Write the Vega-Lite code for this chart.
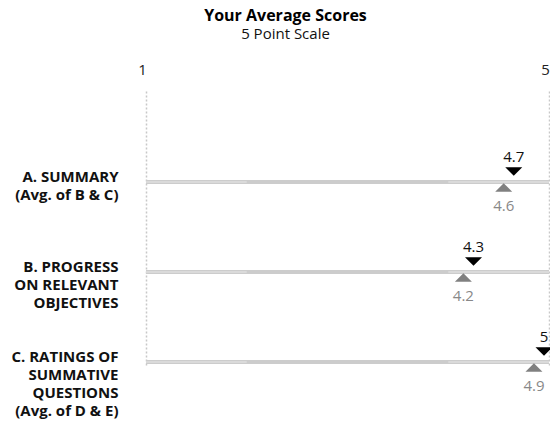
{
  "$schema": "https://vega.github.io/schema/vega-lite/v6.json",
  "width": 403,
  "height": 275,
  "autosize": {"type": "none"},
  "padding": {"left": 146, "top": 91, "right": 1, "bottom": 61},
  "title": {
    "text": "Your Average Scores",
    "subtitle": "5 Point Scale",
    "font": "Open Sans",
    "fontSize": 16,
    "fontWeight": "bold",
    "color": "#000000",
    "subtitleFont": "Open Sans",
    "subtitleFontSize": 15,
    "subtitleColor": "#111111",
    "subtitlePadding": 3,
    "anchor": "middle",
    "frame": "group",
    "dx": -62,
    "offset": 20
  },
  "config": {"view": {"stroke": null}, "font": "Open Sans"},
  "datasets": {
    "scores": [
      {"item": "A", "row": 1, "you": 4.7, "compare": 4.6},
      {"item": "B", "row": 2, "you": 4.3, "compare": 4.2},
      {"item": "C", "row": 3, "you": 5, "compare": 4.9}
    ],
    "track": [
      {"row": 1, "from": 1, "to": 5},
      {"row": 2, "from": 1, "to": 5},
      {"row": 3, "from": 1, "to": 5}
    ],
    "edges": [
      {"row": 1, "from": 1, "to": 2},
      {"row": 1, "from": 4, "to": 5},
      {"row": 2, "from": 1, "to": 2},
      {"row": 2, "from": 4, "to": 5},
      {"row": 3, "from": 1, "to": 2},
      {"row": 3, "from": 4, "to": 5}
    ]
  },
  "layer": [
    {
      "data": {"name": "track"},
      "mark": {"type": "rule", "strokeWidth": 4, "color": "#cccccc"},
      "encoding": {
        "x": {
          "field": "from",
          "type": "quantitative",
          "scale": {"domain": [1, 5], "nice": false, "zero": false},
          "axis": {
            "orient": "top",
            "values": [1, 5],
            "format": "d",
            "grid": true,
            "gridDash": [2, 2],
            "gridColor": "#c8c8c8",
            "gridWidth": 1.5,
            "domain": false,
            "ticks": false,
            "labelFont": "Open Sans",
            "labelFontSize": 15,
            "labelColor": "#222222",
            "labelPadding": 14,
            "labelOffset": -4,
            "labelFlush": false,
            "labelBound": false,
            "title": null
          }
        },
        "x2": {"field": "to"},
        "y": {
          "field": "row",
          "type": "quantitative",
          "scale": {"domain": [-0.0111, 3.0444], "reverse": true, "nice": false, "zero": false},
          "axis": {
            "orient": "left",
            "values": [1, 2, 3],
            "grid": false,
            "domain": false,
            "ticks": false,
            "labelPadding": 28,
            "labelFont": "Open Sans",
            "labelFontSize": 15,
            "labelFontWeight": "bold",
            "labelColor": "#111111",
            "labelAlign": "right",
            "labelBaseline": "top",
            "labelOffset": -13,
            "labelLineHeight": 18,
            "labelOverlap": false,
            "labelBound": false,
            "labelExpr": "datum.value == 1 ? ['A. SUMMARY', '(Avg. of B & C)'] : datum.value == 2 ? ['B. PROGRESS', 'ON RELEVANT', 'OBJECTIVES'] : ['C. RATINGS OF', 'SUMMATIVE', 'QUESTIONS', '(Avg. of D & E)']",
            "title": null
          }
        }
      }
    },
    {
      "data": {"name": "edges"},
      "mark": {"type": "rule", "strokeWidth": 2, "color": "#dadada"},
      "encoding": {
        "x": {"field": "from", "type": "quantitative"},
        "x2": {"field": "to"},
        "y": {"field": "row", "type": "quantitative"}
      }
    },
    {
      "data": {"name": "scores"},
      "mark": {"type": "point", "shape": "M-1,0.5L1,0.5L0,-0.5Z", "size": 289, "filled": true, "opacity": 1, "color": "#808080", "yOffset": 5.5, "xOffset": -5},
      "encoding": {
        "x": {"field": "compare", "type": "quantitative"},
        "y": {"field": "row", "type": "quantitative"}
      }
    },
    {
      "data": {"name": "scores"},
      "mark": {"type": "point", "shape": "M-1,-0.5L1,-0.5L0,0.5Z", "size": 289, "filled": true, "opacity": 1, "color": "#000000", "yOffset": -10.5, "xOffset": -5},
      "encoding": {
        "x": {"field": "you", "type": "quantitative"},
        "y": {"field": "row", "type": "quantitative"}
      }
    },
    {
      "data": {"name": "scores"},
      "mark": {"type": "text", "font": "Open Sans", "fontSize": 15, "color": "#888888", "align": "center", "baseline": "middle", "yOffset": 24, "xOffset": -5},
      "encoding": {
        "x": {"field": "compare", "type": "quantitative"},
        "y": {"field": "row", "type": "quantitative"},
        "text": {"field": "compare", "type": "quantitative"}
      }
    },
    {
      "data": {"name": "scores"},
      "mark": {"type": "text", "font": "Open Sans", "fontSize": 15, "color": "#111111", "align": "center", "baseline": "middle", "yOffset": -25, "xOffset": -5},
      "encoding": {
        "x": {"field": "you", "type": "quantitative"},
        "y": {"field": "row", "type": "quantitative"},
        "text": {"field": "you", "type": "quantitative"}
      }
    }
  ]
}
